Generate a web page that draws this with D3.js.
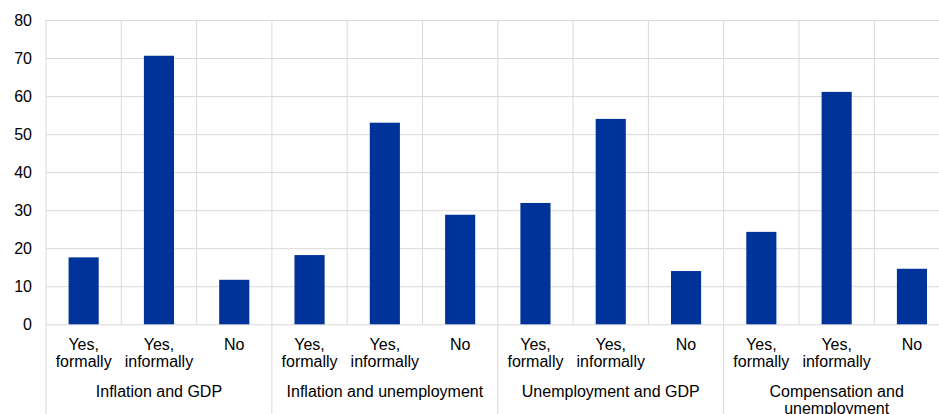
<!DOCTYPE html>
<html>
<head>
<meta charset="utf-8">
<script src="https://cdn.jsdelivr.net/npm/d3@7"></script>
<style>
  body { margin: 0; background: #fff; }
  svg { display: block; font-family: "Liberation Sans", Arial, sans-serif; }
</style>
</head>
<body>
<svg id="chart" width="939" height="414"></svg>
<script>
// data (percentages)
const groups = ["Inflation and GDP", "Inflation and unemployment", "Unemployment and GDP", "Compensation and unemployment"];
const answers = ["Yes, formally", "Yes, informally", "No"];
const inflationGdp = [17.6, 70.6, 11.7];
const inflationUnemp = [18.2, 53.0, 28.8];
const unempGdp = [31.9, 54.0, 14.0];
const compUnemp = [24.3, 61.1, 14.6];
const yTicks = [0, 10, 20, 30, 40, 50, 60, 70, 80];

const seriesByGroup = [inflationGdp, inflationUnemp, unempGdp, compUnemp];
const rows = [];
groups.forEach((g, gi) => answers.forEach((a, ai) => rows.push({ group: g, answer: a, key: gi + "_" + ai, value: seriesByGroup[gi][ai] })));

const margin = { left: 46, top: 20 };
const bandW = 75.3;
const width = bandW * rows.length;
const height = 304.3;
const grid = "#d9d9d9";
const fontSize = "16px";

const svg = d3.select("#chart");
const chart = svg.append("g").attr("transform", `translate(${margin.left},${margin.top})`);

const x = d3.scaleBand().domain(rows.map(d => d.key)).range([0, width]).paddingInner(0).paddingOuter(0);
const y = d3.scaleLinear().domain([0, 80]).range([height, 0]);

// y gridlines + labels
const yAxis = d3.axisLeft(y).tickValues(yTicks).tickSize(-width).tickPadding(14);
chart.append("g").call(yAxis)
  .call(g => g.select(".domain").remove())
  .call(g => g.selectAll("line").attr("stroke", grid))
  .call(g => g.selectAll("text").attr("fill", "#000").style("font-size", fontSize).attr("font-family", "Liberation Sans, Arial, sans-serif"));

// vertical separators inside groups (plot area only)
chart.selectAll(".vband")
  .data(rows.filter((d, i) => i % 3 !== 0))
  .enter().append("line")
  .attr("x1", d => x(d.key)).attr("x2", d => x(d.key))
  .attr("y1", 0).attr("y2", height)
  .attr("stroke", grid);

// group separators run down through the labels
chart.selectAll(".vgroup")
  .data(rows.filter((d, i) => i % 3 === 0))
  .enter().append("line")
  .attr("x1", d => x(d.key)).attr("x2", d => x(d.key))
  .attr("y1", 0).attr("y2", 414 - margin.top)
  .attr("stroke", grid);

// bars
chart.selectAll(".bar")
  .data(rows)
  .enter().append("rect")
  .attr("x", d => x(d.key) + x.bandwidth() * 0.3)
  .attr("width", x.bandwidth() * 0.4)
  .attr("y", d => y(d.value))
  .attr("height", d => y(0) - y(d.value))
  .attr("fill", "#003399");

function wrap(textSel, maxW, lineH) {
  textSel.each(function () {
    const t = d3.select(this);
    const words = t.text().split(/\s+/);
    t.text(null);
    let line = [];
    let tspan = t.append("tspan").attr("x", t.attr("x")).attr("dy", 0);
    words.forEach(w => {
      line.push(w);
      tspan.text(line.join(" "));
      if (tspan.node().getComputedTextLength() > maxW && line.length > 1) {
        line.pop();
        tspan.text(line.join(" "));
        line = [w];
        tspan = t.append("tspan").attr("x", t.attr("x")).attr("dy", lineH).text(w);
      }
    });
  });
}

// category labels
chart.selectAll(".cat")
  .data(rows)
  .enter().append("text")
  .attr("x", d => x(d.key) + x.bandwidth() / 2)
  .attr("y", height + 26)
  .attr("text-anchor", "middle")
  .style("font-size", fontSize)
  .text(d => d.answer)
  .call(wrap, x.bandwidth() - 8, 16.5);

// group labels
chart.selectAll(".grp")
  .data(groups)
  .enter().append("text")
  .attr("x", (d, i) => x(i + "_1") + x.bandwidth() / 2)
  .attr("y", height + 72.5)
  .attr("text-anchor", "middle")
  .style("font-size", fontSize)
  .text(d => d)
  .call(wrap, bandW * 3 - 12, 17);
</script>
</body>
</html>
